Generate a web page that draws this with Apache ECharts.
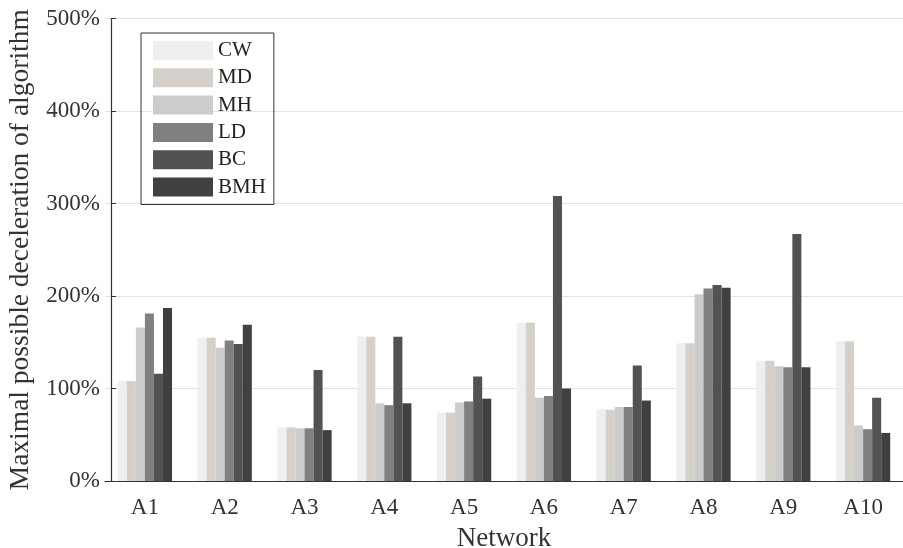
<!DOCTYPE html>
<html>
<head>
<meta charset="utf-8">
<script src="https://cdn.jsdelivr.net/npm/echarts@6/dist/echarts.min.js"></script>
<style>
  html, body { margin: 0; padding: 0; background: #fff; }
  #chart { width: 903px; height: 548px; }
</style>
</head>
<body>
<div id="chart"></div>
<script>
// networks on the x axis
const networks = ['A1', 'A2', 'A3', 'A4', 'A5', 'A6', 'A7', 'A8', 'A9', 'A10'];

// values in percent, one array per method
const cw  = [108, 155, 58, 156, 74, 171, 78, 149, 130, 151];
const md  = [108, 155, 58, 156, 74, 171, 77, 149, 130, 151];
const mh  = [166, 144, 57, 84, 85, 90, 80, 202, 124, 60];
const ld  = [181, 152, 57, 82, 86, 92, 80, 208, 123, 56];
const bc  = [116, 148, 120, 156, 113, 308, 125, 212, 267, 90];
const bmh = [187, 169, 55, 84, 89, 100, 87, 209, 123, 52];

const yTicks = [0, 100, 200, 300, 400, 500];

const methods = [
  { name: 'CW', data: cw, color: '#efefef' },
  { name: 'MD', data: md, color: '#d5d0c9' },
  { name: 'MH', data: mh, color: '#cccccc' },
  { name: 'LD', data: ld, color: '#808080' },
  { name: 'BC', data: bc, color: '#525252' },
  { name: 'BMH', data: bmh, color: '#404040' }
];

const font = 'Liberation Serif';
const chart = echarts.init(document.getElementById('chart'));

const option = {
  animation: false,
  backgroundColor: '#fff',
  textStyle: { fontFamily: font },
  grid: { left: 105, right: 0, top: 18.5, bottom: 67, outerBoundsMode: 'none' },
  legend: {
    orient: 'vertical',
    left: 141,
    top: 33,
    itemWidth: 60,
    itemHeight: 19,
    itemGap: 6.3,
    padding: [7, 8, 7, 12],
    borderColor: '#333',
    borderWidth: 1,
    icon: 'rect',
    textStyle: { fontFamily: font, fontSize: 21, color: '#222' },
    data: methods.map(m => m.name)
  },
  xAxis: {
    type: 'category',
    data: networks,
    name: 'Network',
    nameLocation: 'middle',
    nameGap: 44,
    nameTextStyle: { fontFamily: font, fontSize: 27, color: '#333' },
    axisLine: { lineStyle: { color: '#333', width: 1.2 } },
    axisTick: { show: false },
    axisLabel: { fontFamily: font, fontSize: 23, color: '#333', margin: 15 }
  },
  yAxis: {
    type: 'value',
    min: yTicks[0],
    max: yTicks[yTicks.length - 1],
    interval: 100,
    offset: -6,
    name: 'Maximal possible deceleration of algorithm',
    nameLocation: 'middle',
    nameGap: 76,
    nameTextStyle: { fontFamily: font, fontSize: 27.5, color: '#333' },
    axisLine: { show: true, lineStyle: { color: '#333', width: 1.2 } },
    axisTick: { show: true, inside: true, length: 5, lineStyle: { color: '#333' } },
    axisLabel: { fontFamily: font, fontSize: 23, color: '#333', margin: 11, formatter: '{value}%' },
    splitLine: { show: true, lineStyle: { color: '#e3e3e3', width: 1.2 } }
  },
  series: methods.map(m => ({
    name: m.name,
    type: 'bar',
    data: m.data,
    barGap: '0%',
    barCategoryGap: '32%',
    itemStyle: { color: m.color }
  }))
};

chart.setOption(option);
</script>
</body>
</html>
